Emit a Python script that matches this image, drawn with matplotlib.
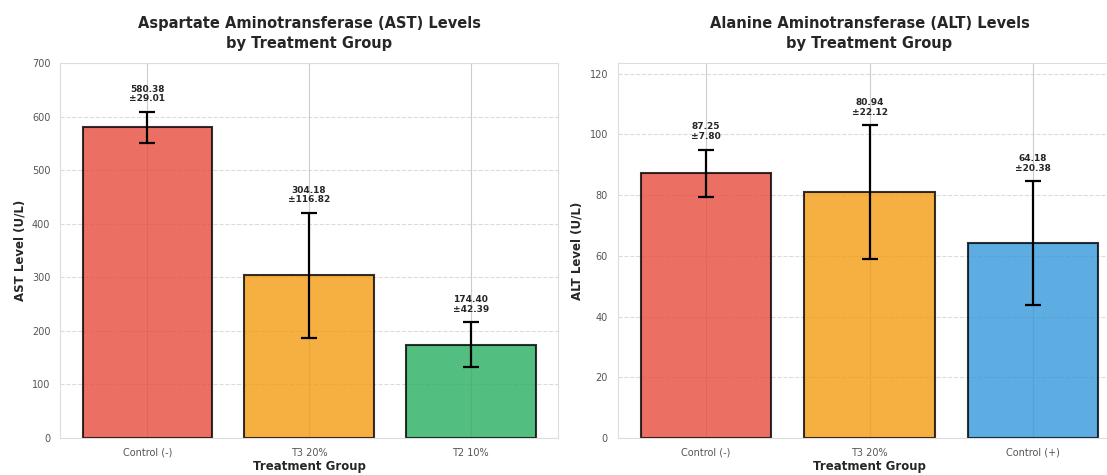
import matplotlib
matplotlib.use("Agg")
import matplotlib.pyplot as plt
import seaborn as sns
import numpy as np

# --- Data ---
ast_groups = ["Control (-)", "T3 20%", "T2 10%"]
ast_means = [580.38, 304.18, 174.40]
ast_sds = [29.01, 116.82, 42.39]
ast_colors = ["#e74c3c", "#f39c12", "#27ae60"]

alt_groups = ["Control (-)", "T3 20%", "Control (+)"]
alt_means = [87.25, 80.94, 64.18]
alt_sds = [7.80, 22.12, 20.38]
alt_colors = ["#e74c3c", "#f39c12", "#3498db"]

sns.set_style("whitegrid")
plt.rcParams["font.family"] = ["DejaVu Sans"]

fig = plt.figure(figsize=(11.07, 4.75), dpi=100)
ax1 = fig.add_axes([0.0542, 0.078, 0.450, 0.789])
ax2 = fig.add_axes([0.558, 0.078, 0.455, 0.789])


def draw_panel(ax, groups, means, sds, colors, ylabel, title, ytop):
    x = np.arange(len(groups))
    ax.bar(x, means, width=0.8, color=colors, alpha=0.8,
           edgecolor="black", linewidth=1.5, zorder=2)
    ax.errorbar(x, means, yerr=sds, fmt="none", ecolor="black",
                elinewidth=1.6, capsize=6, capthick=1.6, zorder=3)
    for xi, m, s in zip(x, means, sds):
        ax.annotate(f"{m:.2f}\n±{s:.2f}", xy=(xi, m + s), xytext=(0, 6),
                    textcoords="offset points", ha="center", va="bottom",
                    fontsize=6.5, fontweight="bold", linespacing=1.1)
    ax.set_xticks(x)
    ax.set_xticklabels(groups, fontsize=7, color="#555555")
    ax.tick_params(axis="y", labelsize=7, labelcolor="#555555")
    ax.set_xlim(-0.54, 2.54)
    ax.set_ylim(0, ytop)
    ax.set_ylabel(ylabel, fontsize=8.5, fontweight="bold")
    ax.set_xlabel("Treatment Group", fontsize=8.5, fontweight="bold", labelpad=2)
    ax.set_title(title, fontsize=10.5, fontweight="bold", pad=11, linespacing=1.4)
    ax.grid(axis="y", linestyle="--", alpha=0.7)
    ax.set_axisbelow(True)
    for sp in ax.spines.values():
        sp.set_color("#dddddd")


draw_panel(ax1, ast_groups, ast_means, ast_sds, ast_colors,
           "AST Level (U/L)",
           "Aspartate Aminotransferase (AST) Levels\nby Treatment Group", 700)
draw_panel(ax2, alt_groups, alt_means, alt_sds, alt_colors,
           "ALT Level (U/L)",
           "Alanine Aminotransferase (ALT) Levels\nby Treatment Group", 123.5)

fig.savefig("out.png", dpi=100)
